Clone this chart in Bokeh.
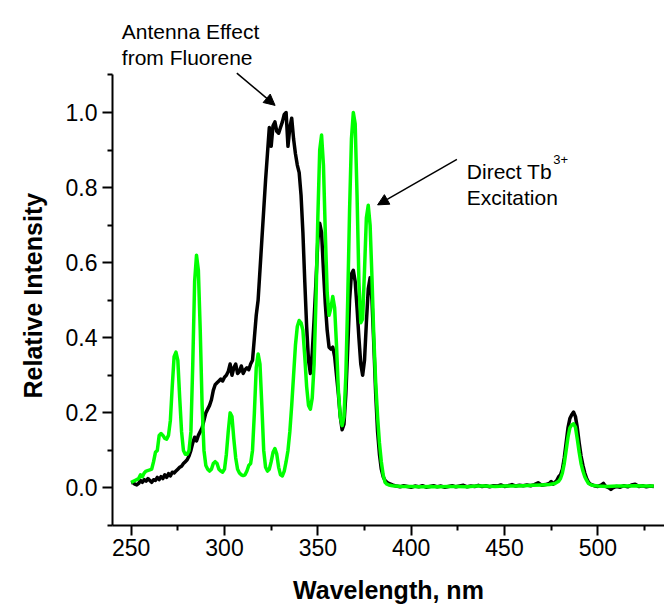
from bokeh.plotting import figure
from bokeh.models import (FixedTicker, PrintfTickFormatter, Label, Arrow, NormalHead, Range1d, Title)
from bokeh.embed import file_html
from bokeh.resources import INLINE

# ---- data ----
black_x = [250, 251, 252, 253, 254, 255, 256, 257, 258, 259, 260, 261, 262, 263, 264, 265, 266, 267, 268, 269,
           270, 271, 272, 273, 274, 275, 276, 277, 278, 279, 280, 281, 282, 283, 284, 285, 286, 287, 288, 289,
           290, 291, 292, 293, 294, 295, 296, 297, 298, 299, 300, 301, 302, 303, 304, 305, 306, 307, 308, 309,
           310, 311, 312, 313, 314, 315, 316, 317, 318, 319, 320, 321, 322, 323, 324, 325, 326, 327, 328, 329,
           330, 331, 332, 333, 334, 335, 336, 337, 338, 339, 340, 341, 342, 343, 344, 345, 346, 347, 348, 349,
           350, 351, 352, 353, 354, 355, 356, 357, 358, 359, 360, 361, 362, 363, 364, 365, 366, 367, 368, 369,
           370, 371, 372, 373, 374, 375, 376, 377, 378, 379, 380, 381, 382, 383, 384, 385, 386, 387, 388, 389,
           390, 392, 394, 396, 398, 400, 402, 404, 406, 408, 410, 412, 414, 416, 418, 420, 422, 424, 426, 428,
           430, 432, 434, 436, 438, 440, 442, 444, 446, 448, 450, 452, 454, 456, 458, 460, 462, 464, 466, 468,
           470, 472, 474, 475, 476, 478, 479, 480, 481, 482, 483, 484, 485, 486, 487, 488, 489, 490, 491, 492,
           493, 494, 495, 496, 498, 500, 502, 503, 504, 506, 507, 508, 510, 512, 514, 516, 518, 520, 522, 524,
           526, 528, 530]
black_y = [0.013, 0.015, 0.010, 0.008, 0.012, 0.020, 0.015, 0.022, 0.018, 0.025, 0.020, 0.015, 0.022, 0.020, 0.028, 0.022, 0.030, 0.025, 0.035, 0.028,
           0.038, 0.032, 0.042, 0.040, 0.045, 0.050, 0.055, 0.058, 0.065, 0.070, 0.075, 0.085, 0.100, 0.120, 0.135, 0.125, 0.140, 0.150, 0.160, 0.180,
           0.200, 0.210, 0.220, 0.235, 0.260, 0.275, 0.280, 0.285, 0.290, 0.285, 0.295, 0.300, 0.310, 0.330, 0.300, 0.320, 0.330, 0.305, 0.310, 0.325,
           0.305, 0.315, 0.320, 0.315, 0.330, 0.340, 0.400, 0.460, 0.500, 0.580, 0.660, 0.740, 0.820, 0.890, 0.960, 0.910, 0.965, 0.975, 0.950, 0.945,
           0.960, 0.975, 0.995, 1.000, 0.910, 0.960, 0.985, 0.930, 0.890, 0.860, 0.840, 0.780, 0.680, 0.550, 0.430, 0.340, 0.305, 0.360, 0.450, 0.550,
           0.660, 0.705, 0.680, 0.580, 0.490, 0.420, 0.375, 0.370, 0.375, 0.350, 0.300, 0.250, 0.190, 0.155, 0.170, 0.250, 0.370, 0.500, 0.570, 0.580,
           0.550, 0.480, 0.400, 0.330, 0.300, 0.340, 0.440, 0.530, 0.560, 0.500, 0.380, 0.250, 0.150, 0.090, 0.050, 0.030, 0.020, 0.015, 0.012, 0.010,
           0.008, 0.005, 0.003, 0.006, 0.004, 0.002, 0.005, 0.003, 0.006, 0.002, 0.004, 0.006, 0.003, 0.005, 0.002, 0.004, 0.006, 0.003, 0.005, 0.007,
           0.003, 0.005, 0.004, 0.007, 0.004, 0.006, 0.003, 0.006, 0.005, 0.008, 0.004, 0.006, 0.009, 0.005, 0.007, 0.006, 0.008, 0.006, 0.009, 0.014,
           0.007, 0.009, 0.012, 0.017, 0.010, 0.020, 0.030, 0.035, 0.050, 0.080, 0.120, 0.160, 0.185, 0.195, 0.202, 0.190, 0.160, 0.120, 0.085, 0.060,
           0.040, 0.025, 0.015, 0.010, 0.006, 0.004, 0.008, 0.012, 0.005, 0.000, -0.004, 0.000, 0.004, 0.002, 0.006, 0.003, 0.008, 0.010, 0.004, 0.006,
           0.003, 0.005, 0.004]

green_x = [250, 252, 254, 255, 256, 257, 258, 260, 261, 262, 263, 264, 265, 266, 267, 268, 269,
           270, 271, 272, 273, 274, 275, 276, 277, 278, 279, 280, 281, 282, 283, 284, 285, 286, 287, 288, 289,
           290, 291, 292, 293, 294, 295, 296, 297, 298, 299, 300, 301, 302, 303, 304, 305, 306, 307, 308, 309,
           310, 311, 312, 313, 314, 315, 316, 317, 318, 319, 320, 321, 322, 323, 324, 325, 326, 327, 328, 329,
           330, 331, 332, 333, 334, 335, 336, 337, 338, 339, 340, 341, 342, 343, 344, 345, 346, 347, 348, 349,
           350, 351, 352, 353, 354, 355, 356, 357, 358, 359, 360, 361, 362, 363, 364, 365, 366, 367, 368, 369,
           370, 371, 372, 373, 374, 375, 376, 377, 378, 379, 380, 381, 382, 383, 384, 385, 386, 387, 388,
           390, 395, 400, 405, 410, 415, 420, 425, 430, 435, 440, 445, 450, 455, 460, 465, 470, 474, 477, 479,
           480, 481, 482, 483, 484, 485, 486, 487, 488, 489, 490, 491, 492, 493, 494, 495, 497, 500, 505, 510,
           515, 520, 525, 530]
green_y = [0.015, 0.020, 0.025, 0.035, 0.030, 0.040, 0.045, 0.048, 0.050, 0.070, 0.095, 0.100, 0.140, 0.145, 0.140, 0.132, 0.130,
           0.140, 0.180, 0.270, 0.350, 0.362, 0.340, 0.240, 0.150, 0.100, 0.090, 0.090, 0.100, 0.150, 0.330, 0.550, 0.620, 0.580, 0.420, 0.220, 0.100,
           0.060, 0.050, 0.045, 0.050, 0.065, 0.070, 0.065, 0.050, 0.045, 0.042, 0.050, 0.090, 0.150, 0.200, 0.190, 0.130, 0.080, 0.050, 0.040, 0.035,
           0.033, 0.035, 0.045, 0.060, 0.065, 0.100, 0.200, 0.320, 0.357, 0.330, 0.220, 0.100, 0.055, 0.045, 0.050, 0.070, 0.095, 0.105, 0.090, 0.055,
           0.035, 0.032, 0.045, 0.070, 0.100, 0.150, 0.220, 0.300, 0.380, 0.430, 0.446, 0.440, 0.420, 0.350, 0.270, 0.220, 0.210, 0.240, 0.330, 0.500,
           0.720, 0.900, 0.940, 0.860, 0.680, 0.520, 0.460, 0.480, 0.510, 0.480, 0.380, 0.260, 0.190, 0.166, 0.190, 0.300, 0.500, 0.740, 0.930, 1.000,
           0.970, 0.780, 0.550, 0.440, 0.450, 0.580, 0.720, 0.753, 0.700, 0.560, 0.400, 0.280, 0.190, 0.120, 0.070, 0.035, 0.015, 0.010, 0.008,
           0.006, 0.004, 0.004, 0.003, 0.004, 0.003, 0.004, 0.004, 0.003, 0.005, 0.005, 0.004, 0.005, 0.005, 0.006, 0.007, 0.008, 0.009, 0.012, 0.018,
           0.025, 0.040, 0.065, 0.100, 0.135, 0.160, 0.168, 0.171, 0.162, 0.130, 0.095, 0.065, 0.045, 0.030, 0.020, 0.012, 0.007, 0.005, 0.004, 0.005,
           0.005, 0.006, 0.005, 0.005]

x_major = [250, 300, 350, 400, 450, 500]
x_minor = [275, 325, 375, 425, 475, 525]
y_major = [0.0, 0.2, 0.4, 0.6, 0.8, 1.0]
y_minor = [-0.1, 0.1, 0.3, 0.5, 0.7, 0.9, 1.1]

FONT = "Liberation Sans"

# frame reaches the top of the page so the annotations above the axis are not clipped;
# the y axis itself is bounded to -0.1 .. 1.1
p = figure(frame_width=552, frame_height=525, output_backend="svg", toolbar_location=None,
           x_range=Range1d(240, 535.7), y_range=Range1d(-0.1, 1.2984), title=None,
           min_border_left=112, min_border_top=0, min_border_bottom=79, min_border_right=0)
p.outline_line_color = None
p.xgrid.visible = False
p.ygrid.visible = False
p.background_fill_color = "white"
p.border_fill_color = "white"

p.line(black_x, black_y, line_color="black", line_width=3.5, line_join="round")
p.line(green_x, green_y, line_color="#00ff00", line_width=3.5, line_join="round")

for ax, maj, mnr in ((p.xaxis[0], x_major, x_minor), (p.yaxis[0], y_major, y_minor)):
    ax.ticker = FixedTicker(ticks=maj, minor_ticks=mnr)
    ax.axis_line_width = 2
    ax.major_tick_line_width = 2
    ax.minor_tick_line_width = 2
    ax.major_tick_out = 10
    ax.major_tick_in = 0
    ax.minor_tick_out = 5
    ax.minor_tick_in = 0
    ax.major_label_text_font = FONT
    ax.major_label_text_font_size = "23px"
    ax.major_label_text_color = "black"
    ax.axis_label_text_font = FONT
    ax.axis_label_text_font_size = "25px"
    ax.axis_label_text_font_style = "bold"
    ax.axis_label_text_color = "black"

p.yaxis[0].bounds = (-0.1, 1.1)
p.yaxis[0].formatter = PrintfTickFormatter(format="%.1f")
p.xaxis[0].axis_label = "Wavelength, nm"
p.xaxis[0].major_label_standoff = 3
p.yaxis[0].major_label_standoff = 5
p.xaxis[0].axis_label_standoff = 17

# y-axis title, centred on the bounded axis (-0.1 .. 1.1) rather than on the whole frame
p.add_layout(Title(text="Relative Intensity", align="left", offset=127, standoff=31,
                   text_font=FONT, text_font_size="25px", text_font_style="bold",
                   text_color="black"), "left")

# annotations
def lab(x, y, t, size="21px"):
    p.add_layout(Label(x=x, y=y, text=t, text_font=FONT, text_font_size=size,
                       text_color="black", text_baseline="alphabetic", text_align="left"))

lab(245.0, 1.216, "Antenna Effect")
lab(245.0, 1.147, "from Fluorene")
lab(429.8, 0.843, "Direct Tb")
lab(476.1, 0.875, "3+", size="13px")
lab(429.8, 0.774, "Excitation")

p.add_layout(Arrow(x_start=306.6, y_start=1.105, x_end=327.1, y_end=1.019, line_width=1.5,
                   line_color="black",
                   end=NormalHead(size=11, fill_color="black", line_color="black", line_width=1)))
p.add_layout(Arrow(x_start=424.5, y_start=0.875, x_end=382.0, y_end=0.754, line_width=1.5,
                   line_color="black",
                   end=NormalHead(size=11, fill_color="black", line_color="black", line_width=1)))

open("out.html", "w").write(file_html(p, INLINE))
